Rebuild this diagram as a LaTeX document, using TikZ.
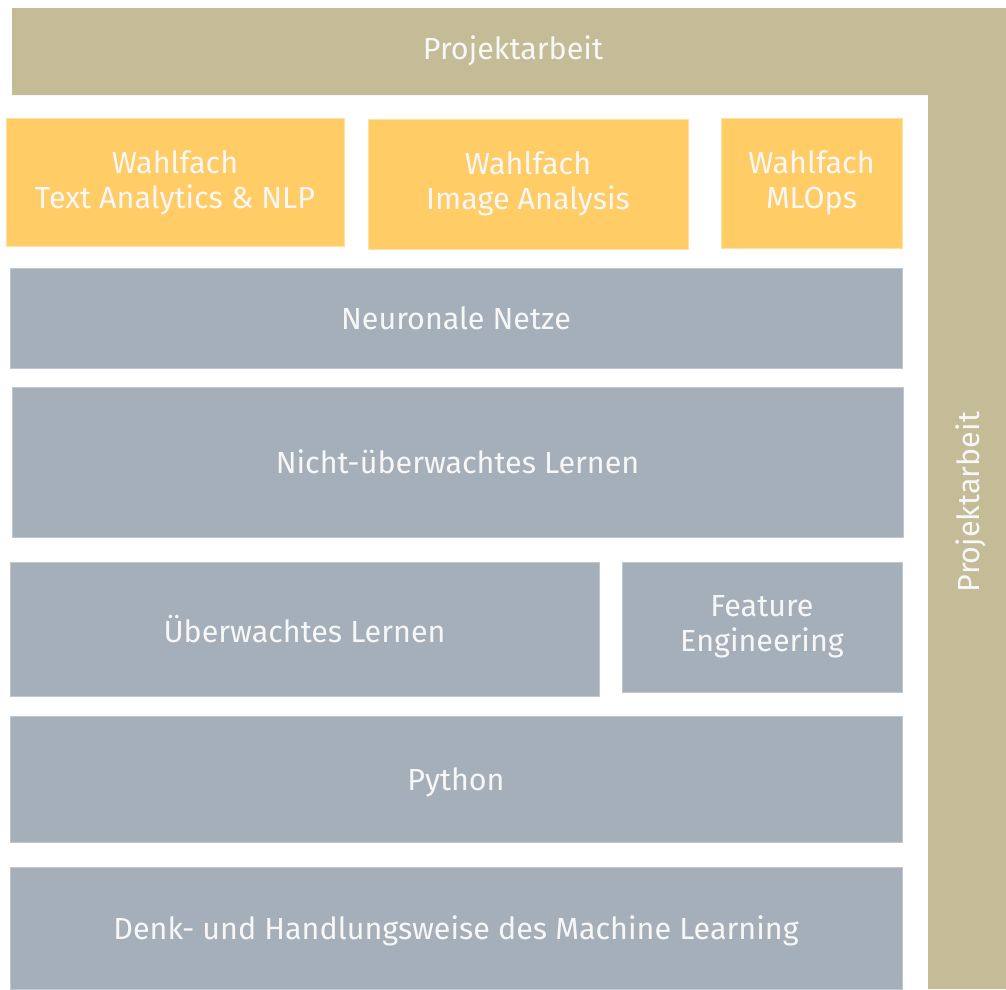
\documentclass[tikz,border=0pt]{standalone}
\usepackage{fontspec}
\setmainfont{Fira Sans}
\definecolor{tan}{HTML}{C4BC97}
\definecolor{ylw}{HTML}{FFCC66}
\definecolor{gry}{HTML}{A5AFBA}
\tikzset{
  box/.style={rectangle, inner sep=0pt, align=center, text=white!94!gray,
    font=\fontsize{30.5}{35}\selectfont, line width=0.8pt},
  ybox/.style={box, fill=ylw, draw=ylw!60!white},
  gbox/.style={box, fill=gry, draw=gry!70!white},
  lbl/.style={text=white!94!gray, font=\fontsize{30.5}{35}\selectfont, inner sep=0pt}
}
\begin{document}
\begin{tikzpicture}[x=1pt,y=-1pt]
\useasboundingbox (0,0) rectangle (1006,989);
\fill[white] (0,0) rectangle (1006,989);
% L-shaped Projektarbeit frame
\fill[tan] (12,8) -- (1006,8) -- (1006,989) -- (928,989) -- (928,95) -- (12,95) -- cycle;
\node[lbl] (ptop) at (513,51) {Projektarbeit};
\node[lbl, rotate=90] (pright) at (971,502) {Projektarbeit};
% Wahlfach boxes
\node[ybox, minimum width=338pt, minimum height=128pt] (w1) at (175,182.5) {Wahlfach\\Text Analytics \& NLP};
\node[ybox, minimum width=320pt, minimum height=130pt] (w2) at (528,184) {Wahlfach\\Image Analysis};
\node[ybox, minimum width=181pt, minimum height=130pt] (w3) at (811.5,183) {Wahlfach\\MLOps};
% grey boxes
\node[gbox, minimum width=892pt, minimum height=100pt] (nn) at (456,318) {Neuronale Netze};
\node[gbox, minimum width=891pt, minimum height=150pt] (nul) at (457.5,462) {Nicht-überwachtes Lernen};
\node[gbox, minimum width=589pt, minimum height=134pt] (ul) at (304.5,629) {Überwachtes Lernen};
\node[gbox, minimum width=280pt, minimum height=130pt] (fe) at (762,627) {Feature\\Engineering};
\node[gbox, text depth=0pt, minimum width=892pt, minimum height=126pt] (py) at (456,779) {Python};
\node[gbox, text depth=0pt, minimum width=892pt, minimum height=122pt] (dh) at (456,928) {Denk- und Handlungsweise des Machine Learning};
\end{tikzpicture}
\end{document}
